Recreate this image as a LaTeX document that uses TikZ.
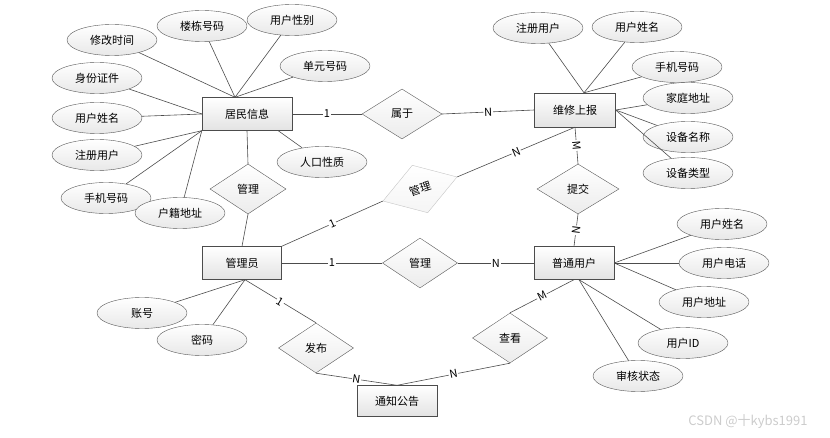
\documentclass[tikz,border=0pt]{standalone}
\usepackage{fontspec}
\newfontfamily\cjk{Noto Sans CJK SC}
\usetikzlibrary{shapes.geometric}
\usetikzlibrary{positioning,calc}

\begin{document}
\begin{tikzpicture}[x=1pt,y=-1pt,
         font=\cjk\fontsize{11}{13}\selectfont,
         entity/.style = {rectangle,draw=gray!60!black,top color=white,
            bottom color=gray!22,minimum width=80pt,minimum height=33pt,inner sep=0pt},
         attr/.style = {ellipse,draw=gray!70!black,top color=white,
            bottom color=gray!18,minimum width=90pt,minimum height=31pt,inner sep=0pt},
         rel/.style = {diamond,draw=gray!70!black,top color=white,
            bottom color=gray!15,minimum width=76pt,minimum height=50pt,inner sep=0pt},
         link/.style = {draw=gray!60!black,line width=0.6pt},
         card/.style = {fill=white,inner sep=0.8pt,sloped,midway}
]
         \useasboundingbox (0,0) rectangle (830,438);

         % entities
         \node[entity,minimum width=90pt] (jm) at (247,114) {居民信息};
         \node[entity,minimum width=81pt,minimum height=34pt] (wx) at (575,110) {维修上报};
         \node[entity,minimum width=79pt] (gly) at (242,263) {管理员};
         \node[entity] (pt) at (574,263) {普通用户};
         \node[entity,minimum height=31pt] (tz) at (397,401) {通知公告};

         % relations
         \node[rel,minimum width=80pt] (sy) at (402,114) {属于};
         \node[rel] (gl1) at (248,189) {管理};
         \node[rel,minimum width=82pt] (tj) at (578,189) {提交};
         \node[rel,minimum width=75pt] (gl2) at (420,263) {管理};
         \node[rel,minimum width=75pt] (fb) at (316,348) {发布};
         \node[rel,minimum width=75pt] (ck) at (510,338) {查看};
         \node[rel,rotate=18,draw=gray!45,bottom color=gray!8,minimum width=78pt] (gl3) at (420,189) {管理};

         % attributes
         \node[attr] (a1) at (112,40) {修改时间};
         \node[attr] (a2) at (202,26) {楼栋号码};
         \node[attr] (a3) at (292,20) {用户性别};
         \node[attr] (a4) at (325,66) {单元号码};
         \node[attr] (a5) at (97,78) {身份证件};
         \node[attr] (a6) at (97,118) {用户姓名};
         \node[attr] (a7) at (97,155) {注册用户};
         \node[attr] (a8) at (106,198) {手机号码};
         \node[attr] (a9) at (180,213) {户籍地址};
         \node[attr] (a10) at (322,162) {人口性质};

         \node[attr] (b1) at (538,28) {注册用户};
         \node[attr] (b2) at (637,27) {用户姓名};
         \node[attr] (b3) at (677,67) {手机号码};
         \node[attr] (b4) at (688,98) {家庭地址};
         \node[attr] (b5) at (688,137) {设备名称};
         \node[attr] (b6) at (688,173) {设备类型};

         \node[attr] (c1) at (722,224) {用户姓名};
         \node[attr] (c2) at (724,263) {用户电话};
         \node[attr] (c3) at (704,302) {用户地址};
         \node[attr] (c4) at (683,343) {用户ID};
         \node[attr] (c5) at (638,376) {审核状态};

         \node[attr] (d1) at (142,313) {账号};
         \node[attr] (d2) at (202,340) {密码};

         \coordinate (jmtop) at ($(jm.north)+(-12,0)$);
         \coordinate (jmbot) at ($(jm.south east)+(-14,0)$);
         \coordinate (wxtop) at ($(wx.north)+(9,0)$);
         \coordinate (ptbot) at ($(pt.south)+(5,0)$);
         \coordinate (glybot) at ($(gly.south)+(3,0)$);

         \draw[link] (a1) -- (jmtop);
         \draw[link] (a2) -- (jmtop);
         \draw[link] (a3) -- (jmtop);
         \draw[link] (a4) -- (jmtop);
         \draw[link] (a5) -- (jm.west);
         \draw[link] (a6) -- (jm.west);
         \draw[link] (a7) -- (jm.south west);
         \draw[link] (a8) -- (jm.south west);
         \draw[link] (a9) -- (jm.south west);
         \draw[link] (a10) -- (jmbot);

         \draw[link] (b1) -- (wxtop);
         \draw[link] (b2) -- (wxtop);
         \draw[link] (b3) -- (wxtop);
         \draw[link] (b4) -- (wx.east);
         \draw[link] (b5) -- (wx.east);
         \draw[link] (b6) -- (wx.east);

         \draw[link] (c1) -- (pt.east);
         \draw[link] (c2) -- (pt.east);
         \draw[link] (c3) -- (pt.east);
         \draw[link] (c4) -- (ptbot);
         \draw[link] (c5) -- (ptbot);

         \draw[link] (d1) -- (glybot);
         \draw[link] (d2) -- (glybot);

         % relation lines
         \draw[link] (jm.east) -- node[card]{1} (sy.west);
         \draw[link] (sy.east) -- node[card]{N} (wx.west);
         \draw[link] (jm.south) -- (gl1.north);
         \draw[link] (gl1.south) -- (gly.north);
         \draw[link] (gly.north east) -- node[card]{1} (gl3.west);
         \draw[link] (gl3.east) -- node[card]{N} (wx.south);
         \draw[link] (wx.south) -- node[card]{M} (tj.north);
         \draw[link] (tj.south) -- node[card]{N} (pt.north);
         \draw[link] (gly.east) -- node[card]{1} (gl2.west);
         \draw[link] (gl2.east) -- node[card]{N} (pt.west);
         \draw[link] (glybot) -- node[card]{1} (fb.north);
         \draw[link] (fb.south) -- node[card]{N} (tz.north);
         \draw[link] (tz.north) -- node[card]{N} (ck.south);
         \draw[link] (ck.north) -- node[card]{M} (pt.south);

         \node[text=gray!40,font=\cjk\fontsize{13}{15}\selectfont] (wm) at (748,422) {CSDN @十kybs1991};
\end{tikzpicture}
\end{document}
